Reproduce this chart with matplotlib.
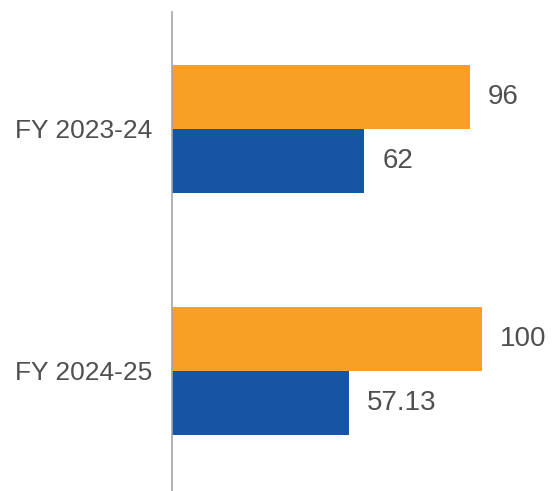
import matplotlib
matplotlib.use("Agg")
import matplotlib.pyplot as plt
import numpy as np

# Data
categories = ['FY 2023-24', 'FY 2024-25']
orange_vals = [96, 100]
blue_vals = [62, 57.13]
orange_labels = ['96', '100']
blue_labels = ['62', '57.13']

plt.rcParams['font.family'] = ['Liberation Sans', 'DejaVu Sans']

fig = plt.figure(figsize=(5.57, 4.91), dpi=100)
ax = fig.add_axes([172 / 557, 0, 1 - 172 / 557, 479 / 491])

y = np.arange(len(categories))
h = 0.264
ax.barh(y - h / 2, orange_vals, height=h, color='#F8A026')
ax.barh(y + h / 2, blue_vals, height=h, color='#1655A4')

txt_color = '#505050'
for i in range(len(categories)):
    ax.text(orange_vals[i] + 5.8, y[i] - h / 2, orange_labels[i],
            va='center', ha='left', fontsize=20, color=txt_color)
    ax.text(blue_vals[i] + 5.8, y[i] + h / 2, blue_labels[i],
            va='center', ha='left', fontsize=20, color=txt_color)

ax.set_xlim(0, 385 / 3.1)
ax.set_ylim(1.496, -0.483)
ax.set_yticks(y)
ax.set_yticklabels(categories, fontsize=19, color=txt_color)
ax.tick_params(axis='y', length=0, pad=14)
ax.set_xticks([])

for s in ['top', 'right', 'bottom']:
    ax.spines[s].set_visible(False)
ax.spines['left'].set_color('#A6A6A6')
ax.spines['left'].set_linewidth(1.2)

fig.savefig('out.png', dpi=100)
